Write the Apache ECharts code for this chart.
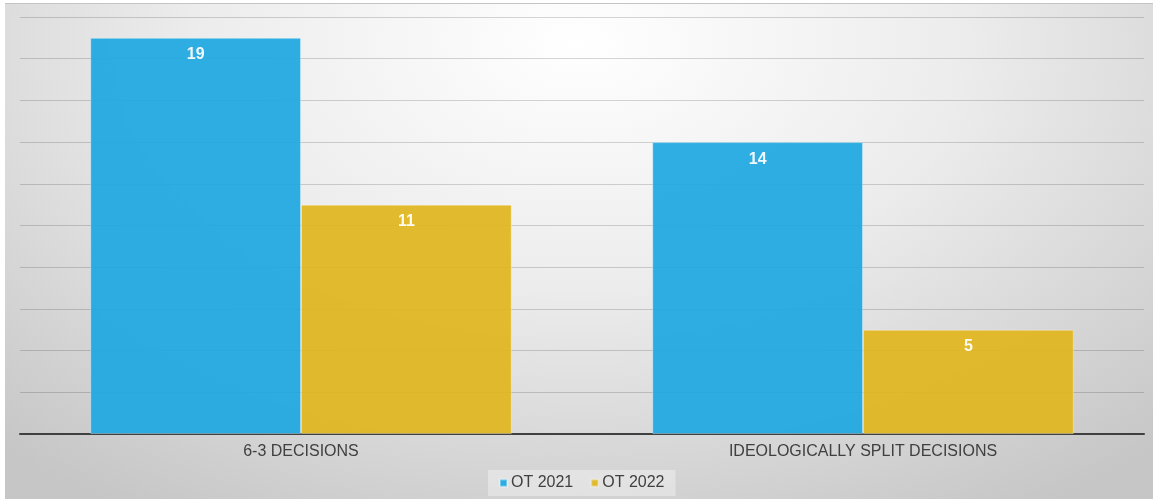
<!DOCTYPE html>
<html>
<head>
<meta charset="utf-8">
<script src="https://cdn.jsdelivr.net/npm/echarts@6/dist/echarts.min.js"></script>
<style>
  html, body { margin: 0; padding: 0; background: #fff; }
  #chart {
    position: absolute; left: 5px; top: 3px; width: 1148px; height: 496px;
    border-top: 1px solid #c4c4c4;
    background: radial-gradient(ellipse 75% 110% at 50% 8%, #ffffff 0%, #ececec 45%, #c6c6c6 100%);
  }
</style>
</head>
<body>
<div id="chart"></div>
<script>
const CATEGORIES = ["6-3 DECISIONS", "IDEOLOGICALLY SPLIT DECISIONS"];
const OT2021 = [19, 14];
const OT2022 = [11, 5];

const FONT = "Liberation Sans, Arial, sans-serif";
const chart = echarts.init(document.getElementById("chart"));

const label = {
  show: true, position: "insideTop", distance: 9,
  color: "#fff", fontWeight: "bold", fontSize: 16, fontFamily: FONT,
};

chart.setOption({
  backgroundColor: "transparent",
  animation: false,
  grid: { left: 15, right: 9, top: 13, bottom: 66 },
  legend: {
    bottom: 4, left: 483,
    data: ["OT 2021", "OT 2022"],
    icon: "rect", itemWidth: 7, itemHeight: 7, itemGap: 17,
    backgroundColor: "rgba(255,255,255,0.35)",
    padding: [5, 11],
    textStyle: { color: "#404040", fontSize: 16, fontFamily: FONT, padding: [0, 0, 0, -1] },
  },
  xAxis: {
    type: "category", data: CATEGORIES,
    axisLine: { lineStyle: { color: "#404040", width: 2 } },
    axisTick: { show: false },
    axisLabel: { color: "#404040", fontSize: 16, margin: 10, fontFamily: FONT },
  },
  yAxis: {
    type: "value", min: 0, max: 20, interval: 2,
    axisLabel: { show: false },
    axisLine: { show: false }, axisTick: { show: false },
    splitLine: { lineStyle: { color: "rgba(0,0,0,0.16)", width: 1 } },
  },
  series: [
    {
      name: "OT 2021", type: "bar", data: OT2021,
      barGap: "0%", barCategoryGap: "25%",
      itemStyle: { color: "#1ea8e1", opacity: 0.93, borderColor: "rgba(255,255,255,0.35)", borderWidth: 1 },
      label,
    },
    {
      name: "OT 2022", type: "bar", data: OT2022,
      itemStyle: { color: "#e0b71e", opacity: 0.93, borderColor: "rgba(255,255,255,0.35)", borderWidth: 1 },
      label,
    },
  ],
});
</script>
</body>
</html>
